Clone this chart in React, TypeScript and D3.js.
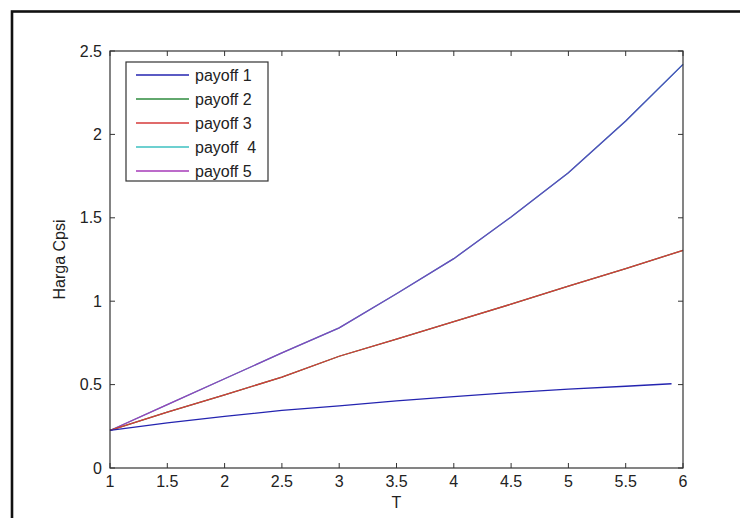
import React, { useEffect, useRef } from 'react';
import * as d3 from 'd3';

// time grid (the lower curve stops a bit before 6)
const tGrid = [1, 1.5, 2, 2.5, 3, 3.5, 4, 4.5, 5, 5.5, 6];
const tPayoff1 = [1, 1.5, 2, 2.5, 3, 3.5, 4, 4.5, 5, 5.5, 5.9];

const payoff1 = [0.225, 0.27, 0.31, 0.345, 0.372, 0.403, 0.428, 0.452, 0.473, 0.49, 0.505];
const payoff2 = [0.225, 0.335, 0.438, 0.545, 0.67, 0.772, 0.877, 0.982, 1.09, 1.195, 1.305];
const payoff3 = [0.225, 0.335, 0.438, 0.545, 0.67, 0.772, 0.877, 0.982, 1.09, 1.195, 1.305];
const payoff4 = [0.225, 0.38, 0.535, 0.69, 0.84, 1.045, 1.255, 1.505, 1.77, 2.08, 2.42];
const payoff5 = [0.225, 0.38, 0.535, 0.69, 0.84, 1.045, 1.255, 1.505, 1.77, 2.08, 2.42];

const seriesNames = ['payoff 1', 'payoff 2', 'payoff 3', 'payoff  4', 'payoff 5'];
const seriesColors = ['#2424b0', '#2e8b3e', '#d63a3a', '#3cc0c0', '#a63ab8'];

const xTicks = [1, 1.5, 2, 2.5, 3, 3.5, 4, 4.5, 5, 5.5, 6];
const yTicks = [0, 0.5, 1, 1.5, 2, 2.5];

export default function App() {
  const svgRef = useRef<SVGSVGElement>(null);

  useEffect(() => {
    const W = 740, H = 518;
    const margin = { top: 51, right: 57, bottom: 50, left: 110 };
    const width = W - margin.left - margin.right;
    const height = H - margin.top - margin.bottom;
    const font = 'Arial, "Liberation Sans", sans-serif';
    const fs = '16px';

    const root = d3.select(svgRef.current);
    root.selectAll('*').remove();
    root.attr('width', W).attr('height', H);

    root.append('rect')
      .attr('width', W).attr('height', H).attr('fill', '#fff');

    // outer figure frame (cut off at right/bottom in the original)
    root.append('rect')
      .attr('x', 12).attr('y', 11.5)
      .attr('width', W + 20).attr('height', H + 20)
      .attr('fill', 'none').attr('stroke', '#111').attr('stroke-width', 2.6);

    const svg = root.append('g').attr('transform', `translate(${margin.left},${margin.top})`);

    const x = d3.scaleLinear().domain([1, 6]).range([0, width]);
    const y = d3.scaleLinear().domain([0, 2.5]).range([height, 0]);

    const defs = root.append('defs');
    const grad = defs.append('linearGradient')
      .attr('id', 'upperGrad')
      .attr('gradientUnits', 'userSpaceOnUse')
      .attr('x1', x(1)).attr('x2', x(6)).attr('y1', 0).attr('y2', 0);
    grad.append('stop').attr('offset', '0%').attr('stop-color', '#a63ab8');
    grad.append('stop').attr('offset', '45%').attr('stop-color', '#7a44bc');
    grad.append('stop').attr('offset', '100%').attr('stop-color', '#4a4ab8');

    const line = d3.line<[number, number]>()
      .x(d => x(d[0]))
      .y(d => y(d[1]));

    const series = [
      { t: tGrid, v: payoff4, color: seriesColors[3] },
      { t: tGrid, v: payoff5, color: 'url(#upperGrad)' },
      { t: tGrid, v: payoff2, color: seriesColors[1] },
      { t: tGrid, v: payoff3, color: seriesColors[2] },
      { t: tPayoff1, v: payoff1, color: seriesColors[0] },
    ];

    series.forEach(s => {
      svg.append('path')
        .datum(s.t.map((t, i) => [t, s.v[i]] as [number, number]))
        .attr('fill', 'none')
        .attr('stroke', s.color)
        .attr('stroke-width', 1.3)
        .attr('d', line);
    });

    // box
    svg.append('rect')
      .attr('width', width).attr('height', height)
      .attr('fill', 'none').attr('stroke', '#333').attr('stroke-width', 1.2);

    const tickLen = 5;
    const ticks = svg.append('g').attr('stroke', '#333').attr('stroke-width', 1);
    xTicks.forEach(t => {
      ticks.append('line').attr('x1', x(t)).attr('x2', x(t)).attr('y1', height).attr('y2', height - tickLen);
      ticks.append('line').attr('x1', x(t)).attr('x2', x(t)).attr('y1', 0).attr('y2', tickLen);
    });
    yTicks.forEach(v => {
      ticks.append('line').attr('x1', 0).attr('x2', tickLen).attr('y1', y(v)).attr('y2', y(v));
      ticks.append('line').attr('x1', width).attr('x2', width - tickLen).attr('y1', y(v)).attr('y2', y(v));
    });

    svg.append('g').selectAll('text')
      .data(xTicks)
      .enter()
      .append('text')
      .attr('x', d => x(d))
      .attr('y', height + 19)
      .attr('text-anchor', 'middle')
      .style('font-family', font)
      .style('font-size', fs)
      .attr('fill', '#222')
      .text(d => String(d));

    svg.append('g').selectAll('text')
      .data(yTicks)
      .enter()
      .append('text')
      .attr('x', -8)
      .attr('y', d => y(d) + 5.5)
      .attr('text-anchor', 'end')
      .style('font-family', font)
      .style('font-size', fs)
      .attr('fill', '#222')
      .text(d => String(d));

    // axis labels
    svg.append('text')
      .attr('x', width / 2)
      .attr('y', height + 40)
      .attr('text-anchor', 'middle')
      .style('font-family', font)
      .style('font-size', fs)
      .attr('fill', '#222')
      .text('T');

    svg.append('text')
      .attr('text-anchor', 'middle')
      .attr('transform', `translate(${-45},${height / 2})rotate(-90)`)
      .style('font-family', font)
      .style('font-size', fs)
      .attr('fill', '#222')
      .text('Harga Cpsi');

    // legend
    const legend = svg.append('g').attr('transform', 'translate(16,11)');
    legend.append('rect')
      .attr('width', 142).attr('height', 119)
      .attr('fill', '#fff').attr('stroke', '#333').attr('stroke-width', 1.2);

    seriesNames.forEach((name, i) => {
      const ly = 13 + i * 24;
      legend.append('line')
        .attr('x1', 10).attr('x2', 63)
        .attr('y1', ly).attr('y2', ly)
        .attr('stroke', seriesColors[i])
        .attr('stroke-width', 1.3);
      legend.append('text')
        .attr('x', 69)
        .attr('y', ly + 5.6)
        .style('font-family', font)
        .style('font-size', fs)
        .style('white-space', 'pre')
        .attr('fill', '#222')
        .text(name);
    });
  }, []);

  return (
    <div>
      <svg ref={svgRef} style={{ position: 'absolute', left: 0, top: 0, display: 'block' }}></svg>
    </div>
  );
}
